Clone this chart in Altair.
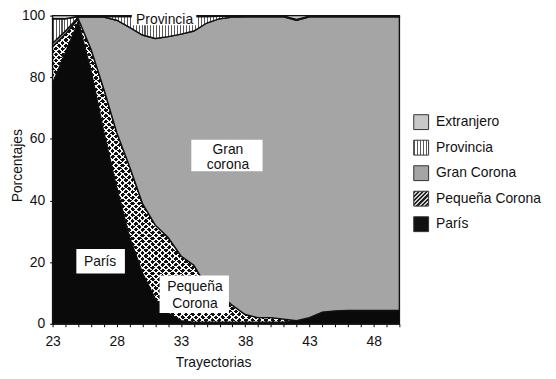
import json
import altair as alt
import numpy as np
import pandas as pd

FONT = "Liberation Sans"

# ---------------- data (percent of each destination, by age) ----------------
ages = list(range(23, 51))
paris = [78, 88, 98, 82, 62, 44, 28, 16.5, 8, 3.5, 1, 0.5, 0.5, 0.5, 0.5, 0.5, 0.5,
         0.5, 0.5, 1, 2, 3.8, 4.2, 4.3, 4.3, 4.3, 4.3, 4.3]
pequena = [12, 6, 1, 7, 14, 18, 23, 22.5, 24, 24.5, 21, 18.5, 11.5, 9, 5.5, 2.5, 1.5,
           1.5, 1, 0, 0, 0, 0, 0, 0, 0, 0, 0]
gran = [1, 1, 0.5, 10.5, 23.5, 36.5, 45.2, 54.7, 60.6, 65.2, 72, 76, 85.6, 89.5, 93.5,
        96.6, 97.6, 97.6, 98.1, 97.5, 97.6, 95.8, 95.4, 95.3, 95.3, 95.3, 95.3, 95.3]
provincia = [8, 4, 0.2, 0.2, 0.2, 1.2, 3.5, 6.0, 7.1, 6.5, 5.7, 4.7, 2.1, 0.8, 0.3, 0.2,
             0.2, 0.2, 0.2, 0.3, 0.2, 0.2, 0.2, 0.2, 0.2, 0.2, 0.2, 0.2]
extranjero = [1, 1, 0.3, 0.3, 0.3, 0.3, 0.3, 0.3, 0.3, 0.3, 0.3, 0.3, 0.3, 0.2, 0.2,
              0.2, 0.2, 0.2, 0.2, 1.2, 0.2, 0.2, 0.2, 0.2, 0.2, 0.2, 0.2, 0.2]

series_names = ["París", "Pequeña Corona", "Gran Corona", "Provincia", "Extranjero"]
legend_order = ["Extranjero", "Provincia", "Gran Corona", "Pequeña Corona", "París"]

# annotation texts (age, percent of text baseline)
ann_text = ["Provincia", "Gran", "corona", "París", "Pequeña", "Corona"]
ann_age = [31.72, 36.65, 36.65, 26.70, 34.08, 34.08]
ann_pct = [97.4, 54.95, 50.16, 18.85, 10.65, 5.0]
# white boxes behind annotations
box_age1 = [29.17, 33.80, 24.85, 31.33]
box_age2 = [34.19, 39.35, 28.63, 36.73]
box_pct1 = [96.9, 49.5, 16.3, 3.5]
box_pct2 = [103.0, 59.7, 24.3, 15.65]

# ---------------- tables ----------------
arr = np.array([paris, pequena, gran, provincia, extranjero], dtype=float)
cum = np.cumsum(arr, axis=0)
rows = []
for i, name in enumerate(series_names):
    for j, a in enumerate(ages):
        lo = float(cum[i - 1][j]) if i else 0.0
        rows.append({"age": a, "serie": name, "lo": lo, "hi": float(cum[i][j])})
df = pd.DataFrame(rows)
ann = pd.DataFrame({"age": ann_age, "lo": ann_pct, "txt": ann_text})
boxes = pd.DataFrame({"age": box_age1, "age2": box_age2, "lo": box_pct1, "hi": box_pct2})


# ---------------- pattern helpers ----------------
def stripes(n, frac, c_line, c_bg, x1, y1, x2, y2):
    stops = []
    for k in range(n):
        a = round(k / n, 5)
        b = round((k + frac) / n, 5)
        c = round((k + 1) / n, 5)
        stops += [{"offset": a, "color": c_line}, {"offset": b, "color": c_line},
                  {"offset": b, "color": c_bg}, {"offset": c, "color": c_bg}]
    return {"gradient": "linear", "x1": x1, "y1": y1, "x2": x2, "y2": y2, "stops": stops}


vert_area = stripes(117, 0.35, "#5a5a5a", "#ffffff", 0, 0, 1, 0)
hatch_a = stripes(104, 0.3, "rgba(255,255,255,0.95)", "rgba(255,255,255,0)", 0, 0, 1, 1)
hatch_b = stripes(104, 0.3, "rgba(255,255,255,0.95)", "rgba(255,255,255,0)", 1, 0, 0, 1)

vert_leg = stripes(5, 0.35, "#5a5a5a", "#ffffff", 0, 0, 1, 0)
hatch_leg = stripes(7, 0.5, "#222222", "#cfcfcf", 0, 0, 1, 1)
legend_range = ["#c8c8c8", {"expr": json.dumps(vert_leg)}, "#a5a5a5",
                {"expr": json.dumps(hatch_leg)}, "#111111"]

# ---------------- scales / axes ----------------
xscale = alt.Scale(domain=[23, 50], nice=False, zero=False)
yscale = alt.Scale(domain=[0, 100], nice=False, zero=True)
xaxis = alt.Axis(values=ages, labelExpr="(datum.value - 23) % 5 === 0 ? datum.label : ''",
                 tickSize=3, labelPadding=8, domainColor="#000", tickColor="#000",
                 labelFont=FONT, labelFontSize=14, labelColor="#111", labelFlush=False,
                 labelOverlap=False, titleFont=FONT, titleFontSize=14,
                 titleFontWeight="normal", titleColor="#111", titlePadding=7, titleX=162,
                 grid=False)
yaxis = alt.Axis(values=[0, 20, 40, 60, 80, 100], tickSize=3, labelPadding=5,
                 domainColor="#000", tickColor="#000", labelFont=FONT, labelFontSize=14,
                 labelColor="#111", titleFont=FONT, titleFontSize=14,
                 titleFontWeight="normal", titleColor="#111", titlePadding=-3, titleY=151,
                 grid=False)

X = alt.X("age:Q", scale=xscale, axis=xaxis, title="Trayectorias")
Y = alt.Y("lo:Q", scale=yscale, axis=yaxis, title="Porcentajes")
Y2 = alt.Y2("hi:Q")

SW = 1.4
SC = "#111111"


def area(name, fill, stroke=True):
    kw = dict(fill=fill, interpolate="linear")
    if stroke:
        kw.update(stroke=SC, strokeWidth=SW)
    else:
        kw.update(strokeWidth=0)
    return (alt.Chart(df).transform_filter(alt.datum.serie == name)
            .mark_area(**kw).encode(x=X, y=Y, y2=Y2))


layers = [
    area("París", "#0a0a0a"),
    area("Pequeña Corona", "#111111", stroke=False),
    area("Pequeña Corona", hatch_a, stroke=False),
    area("Pequeña Corona", hatch_b),
    area("Gran Corona", "#a5a5a5"),
    area("Provincia", vert_area),
    area("Extranjero", "#c8c8c8"),
]

rects = alt.Chart(boxes).mark_rect(fill="#ffffff", strokeWidth=0).encode(
    x=X, x2="age2:Q", y=Y, y2=Y2)
texts = alt.Chart(ann).mark_text(font=FONT, fontSize=14, color="#111", align="center",
                                 baseline="alphabetic").encode(x=X, y=Y, text="txt:N")

legend_layer = (alt.Chart(df).transform_filter("false")
                .mark_square(size=225, opacity=1)
                .encode(fill=alt.Fill("serie:N",
                                      scale=alt.Scale(domain=legend_order, range=legend_range),
                                      legend=alt.Legend(title=None, orient="none", legendX=364,
                                                        legendY=99.5, symbolType="square",
                                                        symbolSize=225, symbolStrokeColor="#333",
                                                        symbolStrokeWidth=1, symbolOpacity=1,
                                                        labelFont=FONT, labelFontSize=14,
                                                        labelColor="#111", labelOffset=7,
                                                        rowPadding=5.75, padding=0))))

chart = alt.layer(*layers, rects, texts, legend_layer).properties(
    width=350, height=311,
    autosize=alt.AutoSizeParams(type="none"),
    padding={"left": 45, "top": 6, "right": 150, "bottom": 50},
).configure_view(strokeWidth=0).configure(background="#ffffff")

chart.save("out.html", embed_options={"renderer": "svg", "actions": False})
